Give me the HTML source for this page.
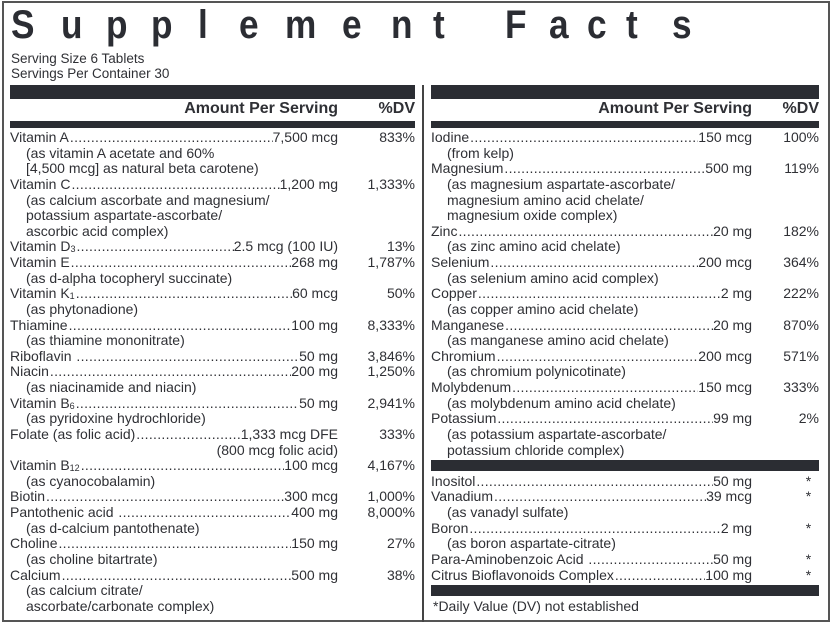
<!DOCTYPE html>
<html><head><meta charset="utf-8"><style>
*{margin:0;padding:0;box-sizing:border-box}
body{width:832px;height:628px;background:#fff;position:relative;overflow:hidden;font-family:"Liberation Sans",sans-serif;color:#2f3035}
.frame{position:absolute;left:2px;top:1px;width:828px;height:621px;border:2px solid #555}
.div{position:absolute;left:422px;top:85px;width:2px;height:537px;background:#444}
.t{position:absolute;top:0px;font-weight:bold;font-size:40px;line-height:50px;color:#2b2d33;transform:scaleX(0.88);transform-origin:left}
.bar{position:absolute;background:#2b2d33}
.small{position:absolute;left:11px;font-size:13.5px;line-height:15px}
.hd{position:absolute;top:100px;font-weight:bold;font-size:16px;line-height:18px;display:flex}
.col{position:absolute;top:130px;font-size:14px}
.r{height:15.64px;line-height:15.64px;display:flex;white-space:nowrap}
.n{flex:none}
.d{flex:1;overflow:hidden;letter-spacing:0.3px;padding:0 1px}
.a{flex:none}
.p{flex:none;text-align:right}
.s{padding-left:16px}
sub{font-size:9px;vertical-align:-1px;line-height:0}
.bl{height:15.64px;position:relative}
.bl div{position:absolute;left:0;right:0;top:2px;height:11px;background:#2b2d33}
</style></head><body>
<div class="frame"></div>
<div class="div"></div>
<span class="t" style="left:11px">S</span>
<span class="t" style="left:61px">u</span>
<span class="t" style="left:106px">p</span>
<span class="t" style="left:151px">p</span>
<span class="t" style="left:198px">l</span>
<span class="t" style="left:239px">e</span>
<span class="t" style="left:285px">m</span>
<span class="t" style="left:342px">e</span>
<span class="t" style="left:391px">n</span>
<span class="t" style="left:433px">t</span>
<span class="t" style="left:505px">F</span>
<span class="t" style="left:549px">a</span>
<span class="t" style="left:587px">c</span>
<span class="t" style="left:626px">t</span>
<span class="t" style="left:672px">s</span>
<div class="small" style="top:51px">Serving Size 6 Tablets</div>
<div class="small" style="top:66px">Servings Per Container 30</div>

<div class="bar" style="left:10px;top:85px;width:405px;height:14px"></div>
<div class="bar" style="left:10px;top:121px;width:405px;height:7px"></div>
<div class="bar" style="left:431px;top:85px;width:388px;height:14px"></div>
<div class="bar" style="left:431px;top:121px;width:388px;height:7px"></div>
<div class="hd" style="left:10px;width:405px"><span style="flex:1;text-align:right">Amount Per Serving</span><span style="width:77px;text-align:right">%DV</span></div>
<div class="hd" style="left:431px;width:388px"><span style="flex:1;text-align:right">Amount Per Serving</span><span style="width:67px;text-align:right">%DV</span></div>

<div class="col" style="left:10px;width:405px">
<div class="r"><span class="n">Vitamin A</span><span class="d">..............................................................................................</span><span class="a">7,500 mcg</span><span class="p" style="width:77px">833%</span></div>
<div class="r s">(as vitamin A acetate and 60%</div>
<div class="r s">[4,500 mcg] as natural beta carotene)</div>
<div class="r"><span class="n">Vitamin C</span><span class="d">..............................................................................................</span><span class="a">1,200 mg</span><span class="p" style="width:77px">1,333%</span></div>
<div class="r s">(as calcium ascorbate and magnesium/</div>
<div class="r s">potassium aspartate-ascorbate/</div>
<div class="r s">ascorbic acid complex)</div>
<div class="r"><span class="n">Vitamin D<sub>3</sub></span><span class="d">..............................................................................................</span><span class="a">2.5 mcg (100 IU)</span><span class="p" style="width:77px">13%</span></div>
<div class="r"><span class="n">Vitamin E</span><span class="d">..............................................................................................</span><span class="a">268 mg</span><span class="p" style="width:77px">1,787%</span></div>
<div class="r s">(as d-alpha tocopheryl succinate)</div>
<div class="r"><span class="n">Vitamin K<sub>1</sub></span><span class="d">..............................................................................................</span><span class="a">60 mcg</span><span class="p" style="width:77px">50%</span></div>
<div class="r s">(as phytonadione)</div>
<div class="r"><span class="n">Thiamine </span><span class="d">..............................................................................................</span><span class="a">100 mg</span><span class="p" style="width:77px">8,333%</span></div>
<div class="r s">(as thiamine mononitrate)</div>
<div class="r"><span class="n">Riboflavin&nbsp; </span><span class="d">..............................................................................................</span><span class="a">50 mg</span><span class="p" style="width:77px">3,846%</span></div>
<div class="r"><span class="n">Niacin</span><span class="d">..............................................................................................</span><span class="a">200 mg</span><span class="p" style="width:77px">1,250%</span></div>
<div class="r s">(as niacinamide and niacin)</div>
<div class="r"><span class="n">Vitamin B<sub>6</sub></span><span class="d">..............................................................................................</span><span class="a">50 mg</span><span class="p" style="width:77px">2,941%</span></div>
<div class="r s">(as pyridoxine hydrochloride)</div>
<div class="r"><span class="n">Folate (as folic acid)</span><span class="d">..............................................................................................</span><span class="a">1,333 mcg DFE</span><span class="p" style="width:77px">333%</span></div>
<div class="r"><span class="d"></span><span class="a">(800 mcg folic acid)</span><span class="p" style="width:77px"></span></div>
<div class="r"><span class="n">Vitamin B<sub>12</sub> </span><span class="d">..............................................................................................</span><span class="a">100 mcg</span><span class="p" style="width:77px">4,167%</span></div>
<div class="r s">(as cyanocobalamin)</div>
<div class="r"><span class="n">Biotin</span><span class="d">..............................................................................................</span><span class="a">300 mcg</span><span class="p" style="width:77px">1,000%</span></div>
<div class="r"><span class="n">Pantothenic acid&nbsp; </span><span class="d">..............................................................................................</span><span class="a">400 mg</span><span class="p" style="width:77px">8,000%</span></div>
<div class="r s">(as d-calcium pantothenate)</div>
<div class="r"><span class="n">Choline</span><span class="d">..............................................................................................</span><span class="a">150 mg</span><span class="p" style="width:77px">27%</span></div>
<div class="r s">(as choline bitartrate)</div>
<div class="r"><span class="n">Calcium</span><span class="d">..............................................................................................</span><span class="a">500 mg</span><span class="p" style="width:77px">38%</span></div>
<div class="r s">(as calcium citrate/</div>
<div class="r s">ascorbate/carbonate complex)</div>
</div>

<div class="col" style="left:431px;width:388px">
<div class="r"><span class="n">Iodine </span><span class="d">..............................................................................................</span><span class="a">150 mcg</span><span class="p" style="width:67px">100%</span></div>
<div class="r s">(from kelp)</div>
<div class="r"><span class="n">Magnesium </span><span class="d">..............................................................................................</span><span class="a">500 mg</span><span class="p" style="width:67px">119%</span></div>
<div class="r s">(as magnesium aspartate-ascorbate/</div>
<div class="r s">magnesium amino acid chelate/</div>
<div class="r s">magnesium oxide complex)</div>
<div class="r"><span class="n">Zinc</span><span class="d">..............................................................................................</span><span class="a">20 mg</span><span class="p" style="width:67px">182%</span></div>
<div class="r s">(as zinc amino acid chelate)</div>
<div class="r"><span class="n">Selenium</span><span class="d">..............................................................................................</span><span class="a">200 mcg</span><span class="p" style="width:67px">364%</span></div>
<div class="r s">(as selenium amino acid complex)</div>
<div class="r"><span class="n">Copper</span><span class="d">..............................................................................................</span><span class="a">2 mg</span><span class="p" style="width:67px">222%</span></div>
<div class="r s">(as copper amino acid chelate)</div>
<div class="r"><span class="n">Manganese </span><span class="d">..............................................................................................</span><span class="a">20 mg</span><span class="p" style="width:67px">870%</span></div>
<div class="r s">(as manganese amino acid chelate)</div>
<div class="r"><span class="n">Chromium</span><span class="d">..............................................................................................</span><span class="a">200 mcg</span><span class="p" style="width:67px">571%</span></div>
<div class="r s">(as chromium polynicotinate)</div>
<div class="r"><span class="n">Molybdenum </span><span class="d">..............................................................................................</span><span class="a">150 mcg</span><span class="p" style="width:67px">333%</span></div>
<div class="r s">(as molybdenum amino acid chelate)</div>
<div class="r"><span class="n">Potassium</span><span class="d">..............................................................................................</span><span class="a">99 mg</span><span class="p" style="width:67px">2%</span></div>
<div class="r s">(as potassium aspartate-ascorbate/</div>
<div class="r s">potassium chloride complex)</div>
<div class="bl"><div></div></div>
<div class="r"><span class="n">Inositol </span><span class="d">..............................................................................................</span><span class="a">50 mg</span><span class="p" style="width:67px">*&nbsp;&nbsp;</span></div>
<div class="r"><span class="n">Vanadium </span><span class="d">..............................................................................................</span><span class="a">39 mcg</span><span class="p" style="width:67px">*&nbsp;&nbsp;</span></div>
<div class="r s">(as vanadyl sulfate)</div>
<div class="r"><span class="n">Boron </span><span class="d">..............................................................................................</span><span class="a">2 mg</span><span class="p" style="width:67px">*&nbsp;&nbsp;</span></div>
<div class="r s">(as boron aspartate-citrate)</div>
<div class="r"><span class="n">Para-Aminobenzoic Acid&nbsp; </span><span class="d">..............................................................................................</span><span class="a">50 mg</span><span class="p" style="width:67px">*&nbsp;&nbsp;</span></div>
<div class="r"><span class="n">Citrus Bioflavonoids Complex </span><span class="d">..............................................................................................</span><span class="a">100 mg</span><span class="p" style="width:67px">*&nbsp;&nbsp;</span></div>
<div class="bl"><div></div></div>
<div class="r" style="padding-left:2px">*Daily Value (DV) not established</div>
</div>
</body></html>
